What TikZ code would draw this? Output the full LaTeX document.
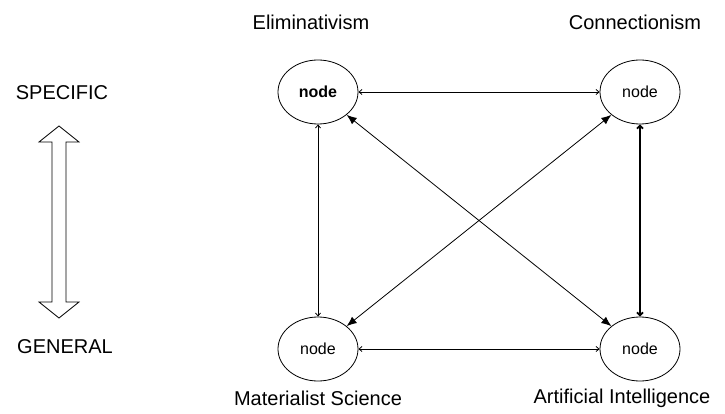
\documentclass[tikz,border=0pt]{standalone}
\usepackage{fontspec}
\setmainfont{Liberation Sans}
\usetikzlibrary{shapes.geometric,arrows.meta}

\begin{document}
\begin{tikzpicture}[x=1pt,y=-1pt]
    \tikzstyle{every node}+=[inner sep=0pt]
    \tikzstyle{idea}=[draw, ellipse, line width=0.8pt, minimum width=80pt, minimum height=64pt, font=\fontsize{16}{18}\selectfont]
    \tikzstyle{caption}=[font=\fontsize{20}{24}\selectfont]
    \tikzstyle{thin link}=[line width=0.8pt, {Straight Barb[length=3pt,width=5pt]}-{Straight Barb[length=3pt,width=5pt]}]
    \tikzstyle{thick link}=[line width=1.8pt, {Straight Barb[length=3pt,width=6pt]}-{Straight Barb[length=3pt,width=6pt]}]
    \tikzstyle{cross link}=[line width=0.8pt, {Latex[length=10pt,width=8pt]}-{Latex[length=10pt,width=8pt]}]
    \useasboundingbox (0,0) rectangle (725,414);
    % the four positions
    \node [idea] (elim) at (318,92) {\textbf{node}};
    \node [idea] (conn) at (640,92) {node};
    \node [idea] (mat) at (318,349) {node};
    \node [idea] (ai) at (640,349) {node};
    % names
    \node [caption] (elimname) at (311,22) {Eliminativism};
    \node [caption] (connname) at (635,22) {Connectionism};
    \node [caption] (matname) at (318,398) {Materialist Science};
    \node [caption] (ainame) at (622,398) {Artificial Intelligence};
    \node [caption] (spec) at (62,93) {SPECIFIC};
    \node [caption] (gen) at (65,347) {GENERAL};
    % links
    \draw [thin link] (elim) -- (conn);
    \draw [thin link] (mat) -- (ai);
    \draw [thin link] (elim) -- (mat);
    \draw [thick link] (conn) -- (ai);
    \draw [cross link] (elim) -- (ai);
    \draw [cross link] (mat) -- (conn);
    % hollow scale arrow
    \draw [line width=0.8pt, line join=miter] (59,126) -- (79,142) -- (66,142) -- (66,302) -- (79,302)
        -- (59,318) -- (39,302) -- (52,302) -- (52,142) -- (39,142) -- cycle;
\end{tikzpicture}
\end{document}
